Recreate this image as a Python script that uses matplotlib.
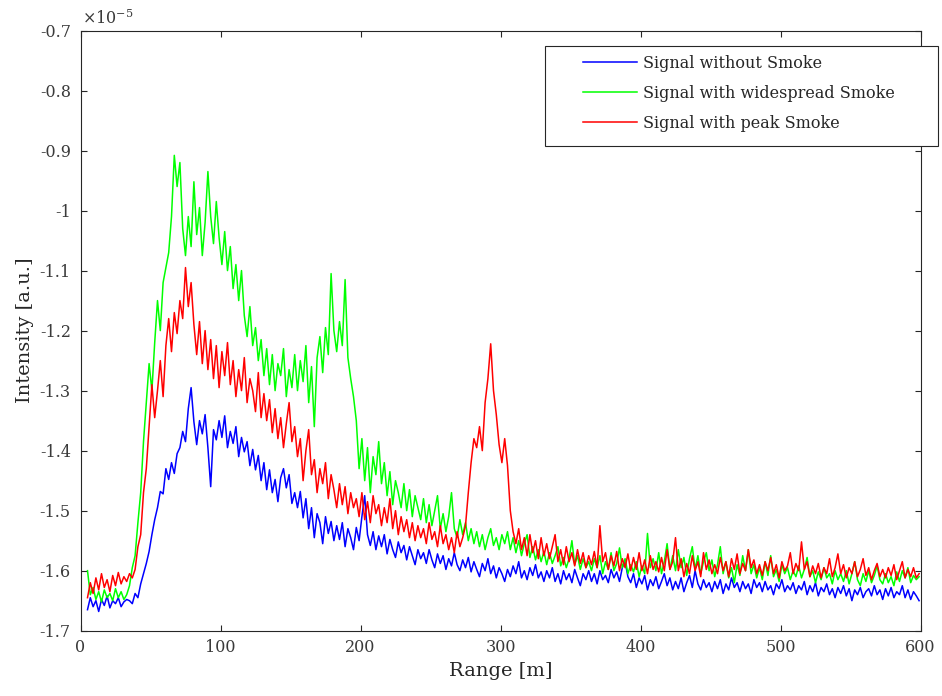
import numpy as np
import matplotlib
matplotlib.use("Agg")
import matplotlib.pyplot as plt
from matplotlib.patches import Rectangle
from matplotlib.ticker import FuncFormatter

# backscatter intensity, units of 1e-5, sampled every 2 m starting at 5 m
RANGE_START, RANGE_STEP = 5, 2

no_smoke = [
    -1.665, -1.645, -1.660, -1.650, -1.668, -1.648, -1.658, -1.642, -1.662, -1.650, -1.655, -1.645, -1.660, -1.652, -1.648,  # 5-33
    -1.650, -1.655, -1.638, -1.645, -1.622, -1.605, -1.588, -1.568, -1.540, -1.515, -1.495, -1.468, -1.472, -1.430, -1.448,  # 35-63
    -1.420, -1.438, -1.405, -1.395, -1.368, -1.385, -1.330, -1.295, -1.352, -1.390, -1.350, -1.372, -1.340, -1.395, -1.460,  # 65-93
    -1.365, -1.382, -1.350, -1.378, -1.342, -1.395, -1.368, -1.388, -1.360, -1.410, -1.378, -1.402, -1.385, -1.425, -1.398,  # 95-123
    -1.432, -1.408, -1.450, -1.420, -1.465, -1.432, -1.470, -1.448, -1.485, -1.445, -1.430, -1.462, -1.440, -1.488, -1.470,  # 125-153
    -1.495, -1.468, -1.512, -1.480, -1.530, -1.495, -1.545, -1.505, -1.520, -1.555, -1.510, -1.538, -1.518, -1.550, -1.525,  # 155-183
    -1.548, -1.520, -1.560, -1.530, -1.545, -1.565, -1.528, -1.550, -1.510, -1.475, -1.540, -1.558, -1.535, -1.565, -1.542,  # 185-213
    -1.560, -1.540, -1.572, -1.548, -1.565, -1.578, -1.552, -1.570, -1.558, -1.582, -1.560, -1.575, -1.590, -1.565, -1.580,  # 215-243
    -1.570, -1.588, -1.565, -1.582, -1.595, -1.572, -1.588, -1.575, -1.598, -1.580, -1.592, -1.570, -1.590, -1.600, -1.582,  # 245-273
    -1.595, -1.578, -1.602, -1.585, -1.598, -1.610, -1.588, -1.600, -1.580, -1.605, -1.592, -1.612, -1.595, -1.605, -1.618,  # 275-303
    -1.598, -1.610, -1.592, -1.605, -1.585, -1.612, -1.600, -1.615, -1.595, -1.608, -1.590, -1.612, -1.602, -1.618, -1.600,  # 305-333
    -1.612, -1.595, -1.618, -1.605, -1.622, -1.600, -1.615, -1.605, -1.620, -1.598, -1.612, -1.625, -1.605, -1.615, -1.600,  # 335-363
    -1.618, -1.605, -1.622, -1.600, -1.615, -1.608, -1.620, -1.598, -1.612, -1.602, -1.618, -1.595, -1.585, -1.610, -1.620,  # 365-393
    -1.605, -1.628, -1.612, -1.622, -1.608, -1.632, -1.615, -1.625, -1.610, -1.630, -1.618, -1.605, -1.625, -1.612, -1.632,  # 395-423
    -1.618, -1.630, -1.612, -1.635, -1.620, -1.608, -1.628, -1.600, -1.622, -1.632, -1.615, -1.628, -1.620, -1.635, -1.618,  # 425-453
    -1.630, -1.615, -1.638, -1.622, -1.632, -1.612, -1.628, -1.620, -1.635, -1.618, -1.630, -1.622, -1.638, -1.615, -1.628,  # 455-483
    -1.620, -1.635, -1.618, -1.632, -1.625, -1.640, -1.622, -1.630, -1.615, -1.635, -1.625, -1.632, -1.620, -1.638, -1.625,  # 485-513
    -1.632, -1.618, -1.640, -1.625, -1.635, -1.620, -1.642, -1.628, -1.635, -1.622, -1.640, -1.630, -1.645, -1.628, -1.638,  # 515-543
    -1.625, -1.642, -1.630, -1.650, -1.632, -1.640, -1.628, -1.645, -1.635, -1.630, -1.642, -1.625, -1.640, -1.632, -1.648,  # 545-573
    -1.630, -1.642, -1.628, -1.645, -1.635, -1.640, -1.625, -1.645, -1.632, -1.648, -1.635, -1.642, -1.650,                  # 575-599
]

widespread = [
    -1.600, -1.640, -1.628, -1.648, -1.635, -1.652, -1.632, -1.645, -1.638, -1.650, -1.630, -1.645, -1.635, -1.648, -1.640,
    -1.625, -1.595, -1.575, -1.520, -1.470, -1.385, -1.320, -1.255, -1.300, -1.220, -1.150, -1.200, -1.120, -1.095, -1.070,
    -1.010, -0.908, -0.960, -0.920, -1.030, -1.075, -1.010, -1.060, -0.952, -1.040, -0.995, -1.075, -1.020, -0.935, -1.010,
    -1.055, -0.985, -1.045, -1.090, -1.035, -1.100, -1.060, -1.130, -1.090, -1.150, -1.100, -1.175, -1.210, -1.160, -1.225,
    -1.195, -1.250, -1.215, -1.275, -1.230, -1.290, -1.240, -1.300, -1.255, -1.275, -1.230, -1.310, -1.265, -1.295, -1.240,
    -1.300, -1.250, -1.285, -1.225, -1.320, -1.260, -1.360, -1.245, -1.210, -1.270, -1.195, -1.240, -1.105, -1.200, -1.235,
    -1.185, -1.225, -1.115, -1.245, -1.280, -1.310, -1.350, -1.430, -1.380, -1.450, -1.395, -1.470, -1.410, -1.440, -1.385,
    -1.455, -1.420, -1.475, -1.435, -1.490, -1.450, -1.470, -1.495, -1.455, -1.500, -1.465, -1.510, -1.475, -1.495, -1.515,
    -1.480, -1.520, -1.490, -1.525, -1.500, -1.475, -1.530, -1.505, -1.535, -1.510, -1.470, -1.530, -1.545, -1.515, -1.540,
    -1.520, -1.550, -1.530, -1.555, -1.535, -1.560, -1.540, -1.565, -1.545, -1.530, -1.558, -1.545, -1.565, -1.540, -1.555,
    -1.535, -1.565, -1.545, -1.570, -1.550, -1.575, -1.555, -1.540, -1.578, -1.560, -1.582, -1.565, -1.585, -1.568, -1.590,
    -1.570, -1.588, -1.575, -1.560, -1.592, -1.578, -1.595, -1.580, -1.550, -1.590, -1.575, -1.598, -1.580, -1.595, -1.585,
    -1.600, -1.580, -1.595, -1.575, -1.605, -1.585, -1.598, -1.570, -1.600, -1.588, -1.562, -1.595, -1.580, -1.605, -1.590,
    -1.602, -1.585, -1.610, -1.592, -1.605, -1.538, -1.595, -1.580, -1.600, -1.570, -1.605, -1.585, -1.555, -1.598, -1.575,
    -1.600, -1.565, -1.595, -1.578, -1.608, -1.580, -1.560, -1.598, -1.575, -1.605, -1.585, -1.570, -1.600, -1.582, -1.610,
    -1.590, -1.560, -1.605, -1.585, -1.612, -1.595, -1.620, -1.590, -1.608, -1.575, -1.600, -1.565, -1.605, -1.590, -1.612,
    -1.595, -1.615, -1.585, -1.608, -1.575, -1.610, -1.598, -1.618, -1.590, -1.605, -1.595, -1.615, -1.600, -1.610, -1.592,
    -1.612, -1.598, -1.578, -1.610, -1.600, -1.620, -1.602, -1.615, -1.595, -1.612, -1.605, -1.622, -1.600, -1.615, -1.605,
    -1.618, -1.600, -1.622, -1.605, -1.585, -1.615, -1.625, -1.605, -1.618, -1.600, -1.620, -1.608, -1.592, -1.615, -1.622,
    -1.605, -1.620, -1.610, -1.625, -1.602, -1.618, -1.600, -1.612, -1.595, -1.620, -1.608, -1.615, -1.610,
]

peak = [
    -1.645, -1.620, -1.638, -1.612, -1.632, -1.605, -1.628, -1.615, -1.635, -1.608, -1.625, -1.603, -1.622, -1.610, -1.618,
    -1.605, -1.612, -1.598, -1.560, -1.540, -1.470, -1.430, -1.360, -1.290, -1.345, -1.300, -1.250, -1.310, -1.225, -1.180,
    -1.235, -1.170, -1.205, -1.150, -1.180, -1.095, -1.160, -1.120, -1.190, -1.240, -1.185, -1.255, -1.200, -1.265, -1.215,
    -1.280, -1.225, -1.295, -1.235, -1.275, -1.220, -1.290, -1.250, -1.310, -1.265, -1.300, -1.245, -1.320, -1.280, -1.300,
    -1.335, -1.270, -1.345, -1.305, -1.350, -1.315, -1.370, -1.330, -1.380, -1.345, -1.395, -1.355, -1.320, -1.385, -1.360,
    -1.410, -1.380, -1.450, -1.400, -1.365, -1.440, -1.415, -1.470, -1.430, -1.455, -1.420, -1.480, -1.440, -1.465, -1.495,
    -1.455, -1.490, -1.460, -1.505, -1.470, -1.495, -1.480, -1.510, -1.470, -1.515, -1.485, -1.520, -1.475, -1.505, -1.490,
    -1.525, -1.495, -1.520, -1.480, -1.530, -1.500, -1.540, -1.510, -1.535, -1.515, -1.545, -1.520, -1.550, -1.525, -1.545,
    -1.530, -1.555, -1.520, -1.548, -1.535, -1.560, -1.525, -1.555, -1.540, -1.565, -1.545, -1.570, -1.535, -1.560, -1.545,
    -1.525, -1.470, -1.420, -1.380, -1.395, -1.360, -1.400, -1.320, -1.280, -1.222, -1.300, -1.340, -1.390, -1.420, -1.380,
    -1.425, -1.500, -1.535, -1.555, -1.530, -1.565, -1.545, -1.575, -1.540, -1.570, -1.550, -1.580, -1.545, -1.575, -1.555,
    -1.580, -1.560, -1.540, -1.585, -1.565, -1.590, -1.560, -1.585, -1.570, -1.592, -1.565, -1.588, -1.570, -1.595, -1.575,
    -1.590, -1.568, -1.595, -1.525, -1.585, -1.570, -1.598, -1.575, -1.592, -1.568, -1.600, -1.580, -1.595, -1.572, -1.600,
    -1.578, -1.598, -1.570, -1.600, -1.582, -1.605, -1.575, -1.598, -1.585, -1.602, -1.578, -1.600, -1.565, -1.598, -1.585,
    -1.545, -1.600, -1.580, -1.610, -1.588, -1.605, -1.575, -1.600, -1.585, -1.610, -1.570, -1.598, -1.582, -1.605, -1.590,
    -1.605, -1.578, -1.600, -1.585, -1.610, -1.580, -1.598, -1.572, -1.605, -1.588, -1.600, -1.565, -1.595, -1.582, -1.605,
    -1.590, -1.608, -1.585, -1.600, -1.578, -1.605, -1.590, -1.612, -1.585, -1.600, -1.592, -1.570, -1.605, -1.588, -1.600,
    -1.552, -1.598, -1.585, -1.610, -1.592, -1.605, -1.588, -1.612, -1.595, -1.605, -1.580, -1.610, -1.595, -1.572, -1.605,
    -1.590, -1.612, -1.595, -1.605, -1.585, -1.610, -1.598, -1.580, -1.608, -1.595, -1.615, -1.600, -1.588, -1.610, -1.598,
    -1.612, -1.595, -1.608, -1.590, -1.615, -1.600, -1.585, -1.612, -1.598, -1.610, -1.595, -1.612, -1.605,
]

SERIES = [  # (values, label, colour)
    (no_smoke, "Signal without Smoke", "#0000ff"),
    (widespread, "Signal with widespread Smoke", "#00ff00"),
    (peak, "Signal with peak Smoke", "#ff0000"),
]

x_ticks = [0, 100, 200, 300, 400, 500, 600]
y_ticks = [-1.7, -1.6, -1.5, -1.4, -1.3, -1.2, -1.1, -1.0, -0.9, -0.8, -0.7]

plt.rcParams["font.family"] = "DejaVu Serif"
plt.rcParams["mathtext.fontset"] = "dejavuserif"
plt.rcParams["axes.unicode_minus"] = False

W, H = 942, 696
fig = plt.figure(figsize=(W / 100, H / 100), dpi=100)
ax = fig.add_axes([80.5 / W, 1 - 630.7 / H, 840 / W, 600.2 / H])

for vals, label, color in SERIES:
    r = RANGE_START + RANGE_STEP * np.arange(len(vals))
    ax.plot(r, vals, color=color, lw=1.1, label=label)

ax.set_xlim(0, 600)
ax.set_ylim(-1.7, -0.7)
ax.set_xticks(x_ticks)
ax.set_yticks(y_ticks)
ax.yaxis.set_major_formatter(FuncFormatter(lambda v, _: f"{v:g}"))

dark = "#262626"
for s in ax.spines.values():
    s.set_color(dark)
    s.set_linewidth(0.8)
ax.tick_params(direction="in", top=True, right=True, length=4, width=0.8,
               color=dark, labelcolor="#3a3a3a", labelsize=11.5)
ax.tick_params(axis="y", pad=7)
ax.tick_params(axis="x", pad=6)

ax.set_xlabel("Range [m]", fontsize=14, color=dark, labelpad=4)
ax.set_ylabel("Intensity [a.u.]", fontsize=14, color=dark, labelpad=4)
ax.text(0.002, 1.004, r"$\times10^{-5}$", transform=ax.transAxes, ha="left", va="bottom",
        fontsize=11.5, color="#3a3a3a")

# MATLAB-style legend box, partly outside the axes
fig.add_artist(Rectangle((545 / W, 1 - 146 / H), 393 / W, 100 / H, transform=fig.transFigure,
                         facecolor="white", edgecolor=dark, lw=0.8, zorder=3))
leg = fig.legend(loc="upper left", bbox_to_anchor=(583 / W, 1 - 55 / H), frameon=False,
                 fontsize=11.5, borderpad=0, borderaxespad=0, handlelength=3.4,
                 handletextpad=0.37, labelspacing=0.8)
leg.set_zorder(5)
for t in leg.get_texts():
    t.set_color(dark)

fig.savefig("out.png", dpi=100)
